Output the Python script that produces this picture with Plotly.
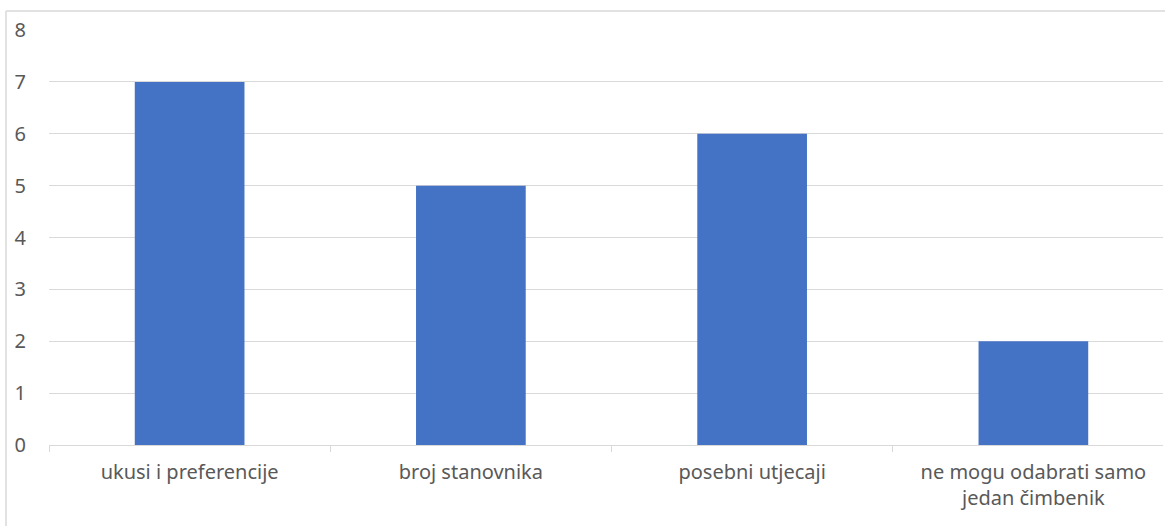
import plotly.graph_objects as go

categories = ["ukusi i preferencije", "broj stanovnika", "posebni utjecaji",
              "ne mogu odabrati samo<br>jedan čimbenik"]
values = [7, 5, 6, 2]
y_ticks = [0, 1, 2, 3, 4, 5, 6, 7, 8]

W, H = 1165, 526
L, R, T, B = 49, 2, 30, 81
pw = W - L - R
ph = H - T - B

fig = go.Figure(go.Bar(x=categories, y=values, marker_color="#4472C4",
                       marker_line_width=0, hoverinfo="skip"))

cat_w = 281.25
xmax = -0.5 + pw / cat_w

fig.update_layout(
    width=W, height=H,
    margin=dict(l=L, r=R, t=T, b=B, pad=0),
    paper_bgcolor="white", plot_bgcolor="white",
    bargap=0.61,
    showlegend=False,
    font=dict(family="Noto Sans, Open Sans, sans-serif", size=20, color="#595959"),
    xaxis=dict(
        type="category", range=[-0.5, xmax],
        tickson="boundaries", ticks="outside", ticklen=6, tickcolor="#d9d9d9",
        showline=True, linecolor="#d9d9d9", linewidth=1,
        showgrid=False, zeroline=False,
        ticklabelstandoff=9,
        tickfont=dict(size=20, color="#595959"),
    ),
    yaxis=dict(
        range=[0, 8], tickvals=y_ticks, showgrid=True, gridcolor="#d9d9d9",
        gridwidth=1, zeroline=False, showline=False, ticks="",
        ticklabelstandoff=22,
        tickfont=dict(size=20, color="#595959"),
    ),
    shapes=[
        dict(type="line", xref="paper", yref="paper",
             x0=(6 - L) / pw, x1=(6 - L) / pw, y0=(445 - 11) / ph, y1=-0.5,
             line=dict(color="#d9d9d9", width=1.5)),
        dict(type="line", xref="paper", yref="paper",
             x0=(6 - L) / pw, x1=(W - L) / pw + 0.01, y0=(445 - 11) / ph, y1=(445 - 11) / ph,
             line=dict(color="#d9d9d9", width=1.5)),
    ],
)

fig.write_html("out.html", config={"displayModeBar": False},
               post_script="document.body.style.margin='0px';"
                           "document.body.style.overflow='hidden';"
                           "document.documentElement.style.overflow='hidden';")
